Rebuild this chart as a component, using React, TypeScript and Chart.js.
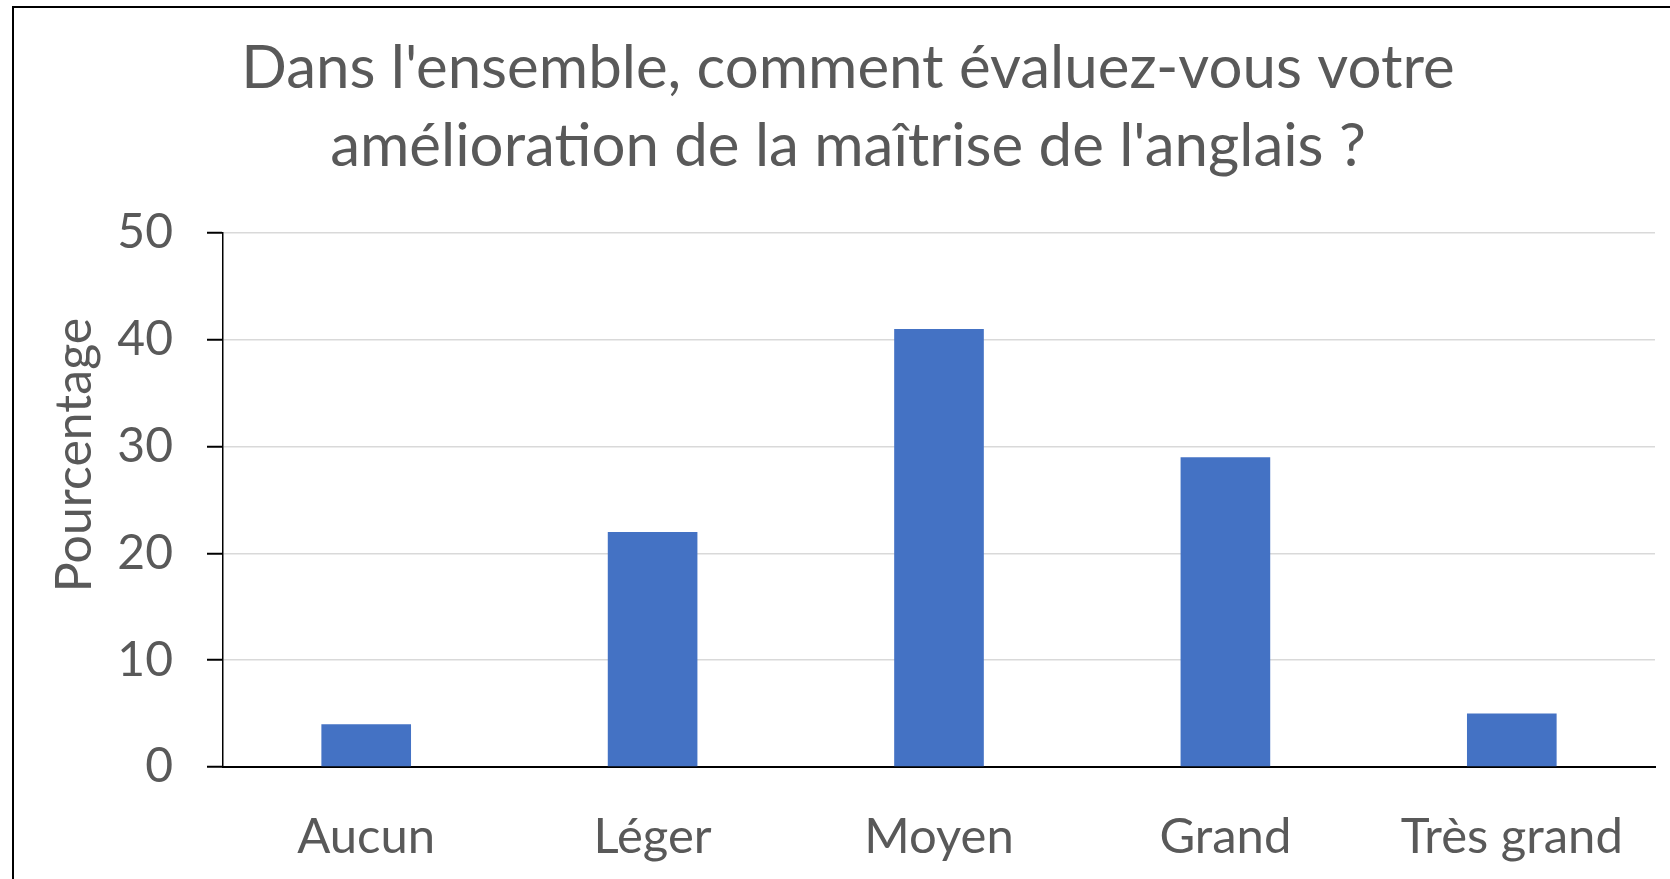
import React, { useEffect, useRef } from "react";
import { Chart, registerables } from "chart.js";

Chart.register(...registerables);

const categories = ["Aucun", "Léger", "Moyen", "Grand", "Très grand"];
const values = [4, 22, 41, 29, 5];
const titleLines = [
  "Dans l'ensemble, comment évaluez-vous votre",
  "amélioration de la maîtrise de l'anglais ?",
];
const yAxisTitle = "Pourcentage";
const yMin = 0;
const yMax = 50;
const yStep = 10;

const FONT = "Lato, 'Open Sans', sans-serif";
const TEXT = "#595959";

const yTitlePlugin = {
  id: "yTitlePlugin",
  afterDraw(chart: any) {
    const ctx = chart.ctx;
    ctx.save();
    ctx.translate(75, 455);
    ctx.rotate(-Math.PI / 2);
    ctx.textAlign = "center";
    ctx.textBaseline = "middle";
    ctx.font = `50px ${FONT}`;
    ctx.fillStyle = TEXT;
    ctx.fillText(yAxisTitle, 0, 0);
    ctx.restore();
  },
};

export default function App() {
  const ref = useRef<HTMLCanvasElement | null>(null);
  useEffect(() => {
    if (!ref.current) return;
    const chart = new Chart(ref.current, {
      type: "bar",
      data: {
        labels: categories,
        datasets: [
          {
            data: values,
            backgroundColor: "#4472C4",
            borderWidth: 0,
            categoryPercentage: 1,
            barPercentage: 0.313,
          },
        ],
      },
      options: {
        responsive: false,
        animation: false,
        devicePixelRatio: 1,
        layout: { padding: { left: 41, right: 15, top: 0, bottom: 0 } },
        plugins: {
          legend: { display: false },
          tooltip: { enabled: false },
          title: {
            display: true,
            text: titleLines,
            color: TEXT,
            font: { family: FONT, size: 60, weight: "normal", lineHeight: 78 / 60 },
            padding: { top: 29.5, bottom: 47.5 },
          },
        },
        scales: {
          x: {
            grid: { display: false, drawTicks: false },
            border: { display: true, color: "#000000", width: 2 },
            ticks: {
              color: TEXT,
              font: { family: FONT, size: 49 },
              padding: 41,
              maxRotation: 0,
              autoSkip: false,
            },
            afterFit: (scale: any) => {
              scale.height = 112;
            },
          },
          y: {
            min: yMin,
            max: yMax,
            ticks: {
              stepSize: yStep,
              color: TEXT,
              font: { family: FONT, size: 48 },
              padding: 34,
            },
            grid: {
              color: (c: any) => (c.tick && c.tick.value === 0 ? "rgba(0,0,0,0)" : "#d9d9d9"),
              lineWidth: 1.5,
              tickColor: "#000000",
              tickLength: 16,
              tickWidth: 2,
            },
            border: { display: true, color: "#000000", width: 1.5 },
            afterFit: (scale: any) => {
              scale.width = 182;
            },
          },
        },
      },
      plugins: [yTitlePlugin],
    });
    return () => chart.destroy();
  }, []);

  return (
    <div
      style={{
        position: "absolute",
        left: 0,
        top: 0,
        width: 1670,
        height: 879,
        overflow: "hidden",
        background: "#ffffff",
      }}
    >
      <canvas
        ref={ref}
        width={1670}
        height={879}
        style={{ position: "absolute", left: 0, top: 0, width: 1670, height: 879 }}
      />
      <div
        style={{
          position: "absolute",
          left: 12,
          top: 6,
          width: 1700,
          height: 900,
          border: "2px solid #000000",
          boxSizing: "border-box",
          pointerEvents: "none",
        }}
      />
    </div>
  );
}
